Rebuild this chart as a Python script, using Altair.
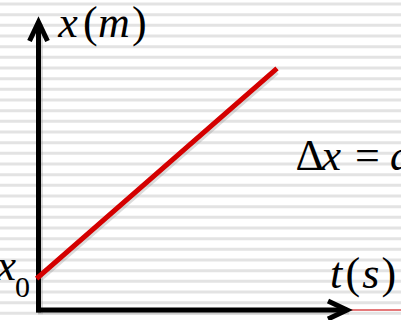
import altair as alt
import pandas as pd

# Axis frame: t in seconds, x in metres; the arrow tips sit at t = 10 and x = 10.
T_DOMAIN = [-1.248, 11.75]
X_DOMAIN = [-0.347, 10.764]

# Uniform motion: position grows linearly from x0
line_t = [0.0, 7.67]
line_x = [1.15, 8.33]

# Ruled-paper background rows
stripe_rows = list(range(30))

# Axis shafts
vaxis_x = [-0.08, 10.0]
haxis_t = [-0.08, 10.0]
# Faint continuation to the right of the t arrow
tail_t = [10.05, 11.75]

# Label pieces: (text, t, x, font size)
italic_pieces = [
    ("x", 0.64, 9.48, 44), ("m", 1.93, 9.48, 44),
    ("t", 9.45, 0.76, 44), ("s", 10.49, 0.76, 44),
    ("x", 9.17, 4.86, 44), ("a", 11.39, 4.86, 44),
    ("x", -1.36, 1.04, 44),
]
upright_pieces = [
    ("(", 1.44, 9.48, 44), (")", 3.03, 9.48, 44),
    ("(", 9.95, 0.76, 44), (")", 11.12, 0.76, 44),
    ("Δ", 8.33, 4.86, 44), ("=", 10.26, 4.86, 44),
    ("0", -0.76, 0.45, 30),
]

W, H = 401, 320
tx = alt.Scale(domain=T_DOMAIN, range=[0, W], nice=False, zero=False)
xs = alt.Scale(domain=X_DOMAIN, range=[H, 0], nice=False, zero=False)
FONT = "Liberation Serif, Times New Roman, serif"

stripes = alt.Chart(pd.DataFrame({"row": stripe_rows})).mark_rule(
    color="#e3e3e3", strokeWidth=3
).encode(
    y=alt.Y("row:Q", axis=None,
            scale=alt.Scale(domain=[-0.375, 29.625], range=[0, H], nice=False, zero=False))
)

vshaft = pd.DataFrame({"t": [0.0, 0.0], "x": vaxis_x})
hshaft = pd.DataFrame({"t": haxis_t, "x": [0.0, 0.0]})


def shaft(df, color, width, dx=0, dy=0, opacity=1.0):
    return alt.Chart(df).mark_line(
        color=color, strokeWidth=width, strokeCap="butt",
        xOffset=dx, yOffset=dy, opacity=opacity
    ).encode(
        x=alt.X("t:Q", scale=tx, axis=None),
        y=alt.Y("x:Q", scale=xs, axis=None),
    )


axis_shadow = shaft(vshaft, "#9a9a9a", 5, 2, 2, 0.35) + shaft(hshaft, "#9a9a9a", 5, 2, 2, 0.35)
axes = shaft(vshaft, "black", 5) + shaft(hshaft, "black", 5)

tail = alt.Chart(pd.DataFrame({"t": tail_t, "x": [0.0, 0.0]})).mark_line(
    color="#e5797a", strokeWidth=2
).encode(x=alt.X("t:Q", scale=tx, axis=None), y=alt.Y("x:Q", scale=xs, axis=None))

heads = pd.DataFrame({"t": [10.0, 0.0], "x": [0.0, 10.0], "dir": ["t", "x"]})
head_t = alt.Chart(heads[heads.dir == "t"]).mark_point(
    shape="M -1.9 -0.9 L 0 0 L -1.9 0.9", size=400, filled=False,
    stroke="black", strokeWidth=5, opacity=1, strokeJoin="miter"
).encode(x=alt.X("t:Q", scale=tx, axis=None), y=alt.Y("x:Q", scale=xs, axis=None))
head_x = alt.Chart(heads[heads.dir == "x"]).mark_point(
    shape="M -0.9 1.9 L 0 0 L 0.9 1.9", size=400, filled=False,
    stroke="black", strokeWidth=5, opacity=1, strokeJoin="miter"
).encode(x=alt.X("t:Q", scale=tx, axis=None), y=alt.Y("x:Q", scale=xs, axis=None))

motion = pd.DataFrame({"t": line_t, "x": line_x})
motion_shadow = alt.Chart(motion).mark_line(
    color="#8c8c8c", strokeWidth=5, opacity=0.3, xOffset=2, yOffset=2
).encode(x=alt.X("t:Q", scale=tx, axis=None), y=alt.Y("x:Q", scale=xs, axis=None))
motion_line = alt.Chart(motion).mark_line(
    color="#d40000", strokeWidth=5, strokeCap="square"
).encode(x=alt.X("t:Q", scale=tx, axis=None), y=alt.Y("x:Q", scale=xs, axis=None))


def labels(pieces, style):
    df = pd.DataFrame(pieces, columns=["label", "t", "x", "fs"])
    return alt.Chart(df).mark_text(
        font=FONT, fontStyle=style, align="left", baseline="alphabetic", color="black"
    ).encode(
        x=alt.X("t:Q", scale=tx, axis=None),
        y=alt.Y("x:Q", scale=xs, axis=None),
        text="label:N",
        size=alt.Size("fs:Q", scale=None, legend=None),
    )


chart = alt.layer(
    stripes,
    alt.layer(axis_shadow, tail, axes, head_t, head_x, motion_shadow, motion_line,
              labels(italic_pieces, "italic"), labels(upright_pieces, "normal")),
).resolve_scale(y="independent").properties(
    width=W, height=H, padding=0, autosize="none", background="white"
).configure_view(stroke=None)

chart.save("out.html", embed_options={"renderer": "svg", "actions": False})
